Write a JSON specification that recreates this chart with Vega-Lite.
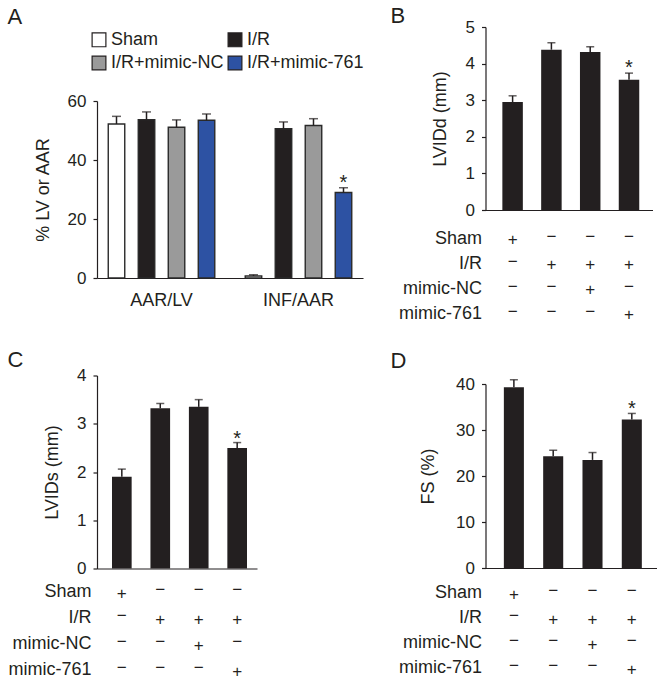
{
  "$schema": "https://vega.github.io/schema/vega-lite/v6.json",
  "background": "white",
  "padding": {"left": 7, "top": 5, "right": 0, "bottom": 0},
  "config": {
    "font": "Liberation Sans",
    "view": {"stroke": null},
    "axis": {
      "domainColor": "#231f20", "tickColor": "#231f20", "labelColor": "#231f20", "titleColor": "#231f20",
      "labelFont": "Liberation Sans", "titleFont": "Liberation Sans",
      "labelFontSize": 17, "titleFontSize": 18, "titleFontWeight": "normal",
      "grid": false, "domainWidth": 1.2, "tickWidth": 1.2, "tickSize": 4, "labelPadding": 7
    },
    "title": {"font": "Liberation Sans", "fontSize": 22, "fontWeight": "normal", "anchor": "start", "frame": "group", "color": "#231f20"},
    "text": {"font": "Liberation Sans", "color": "#231f20"}
  },
  "datasets": {
    "a": [
      {"measure": "AAR/LV", "group": "Sham", "value": 52.2, "upper": 54.8},
      {"measure": "AAR/LV", "group": "I/R", "value": 53.7, "upper": 56.3},
      {"measure": "AAR/LV", "group": "I/R+mimic-NC", "value": 51.1, "upper": 53.6},
      {"measure": "AAR/LV", "group": "I/R+mimic-761", "value": 53.5, "upper": 55.6},
      {"measure": "INF/AAR", "group": "Sham", "value": 0.7, "upper": 1.1},
      {"measure": "INF/AAR", "group": "I/R", "value": 50.6, "upper": 52.9},
      {"measure": "INF/AAR", "group": "I/R+mimic-NC", "value": 51.7, "upper": 54.0},
      {"measure": "INF/AAR", "group": "I/R+mimic-761", "value": 29.0, "upper": 30.6, "star": "*"}
    ],
    "b": [
      {"group": "Sham", "value": 2.95, "upper": 3.12},
      {"group": "I/R", "value": 4.38, "upper": 4.57},
      {"group": "I/R+mimic-NC", "value": 4.32, "upper": 4.46},
      {"group": "I/R+mimic-761", "value": 3.56, "upper": 3.74, "star": "*"}
    ],
    "c": [
      {"group": "Sham", "value": 1.90, "upper": 2.06},
      {"group": "I/R", "value": 3.32, "upper": 3.42},
      {"group": "I/R+mimic-NC", "value": 3.35, "upper": 3.50},
      {"group": "I/R+mimic-761", "value": 2.50, "upper": 2.61, "star": "*"}
    ],
    "d": [
      {"group": "Sham", "value": 39.3, "upper": 40.9},
      {"group": "I/R", "value": 24.3, "upper": 25.6},
      {"group": "I/R+mimic-NC", "value": 23.5, "upper": 25.1},
      {"group": "I/R+mimic-761", "value": 32.3, "upper": 33.6, "star": "*"}
    ],
    "table": [
      {"group": "Sham", "row": "Sham", "sign": "+"},
      {"group": "I/R", "row": "Sham", "sign": "−"},
      {"group": "I/R+mimic-NC", "row": "Sham", "sign": "−"},
      {"group": "I/R+mimic-761", "row": "Sham", "sign": "−"},
      {"group": "Sham", "row": "I/R", "sign": "−"},
      {"group": "I/R", "row": "I/R", "sign": "+"},
      {"group": "I/R+mimic-NC", "row": "I/R", "sign": "+"},
      {"group": "I/R+mimic-761", "row": "I/R", "sign": "+"},
      {"group": "Sham", "row": "mimic-NC", "sign": "−"},
      {"group": "I/R", "row": "mimic-NC", "sign": "−"},
      {"group": "I/R+mimic-NC", "row": "mimic-NC", "sign": "+"},
      {"group": "I/R+mimic-761", "row": "mimic-NC", "sign": "−"},
      {"group": "Sham", "row": "mimic-761", "sign": "−"},
      {"group": "I/R", "row": "mimic-761", "sign": "−"},
      {"group": "I/R+mimic-NC", "row": "mimic-761", "sign": "−"},
      {"group": "I/R+mimic-761", "row": "mimic-761", "sign": "+"}
    ]
  },
  "resolve": {"scale": {"color": "independent"}},
  "spacing": 26.5,
  "hconcat": [
    {
      "spacing": 2.5,
      "resolve": {"scale": {"color": "independent"}},
      "vconcat": [
        {
          "width": 266, "height": 251,
          "title": {"text": "A", "dx": -89.5, "offset": -1.5},
          "data": {"name": "a"},
          "encoding": {
            "x": {"field": "measure", "type": "nominal", "sort": ["AAR/LV", "INF/AAR"],
                  "scale": {"paddingInner": 0.058, "paddingOuter": 0},
                  "axis": {"labelAngle": 0, "ticks": false, "labelFontSize": 18, "labelPadding": 13, "title": " ", "titleFontSize": 18, "titlePadding": 18.5}},
            "xOffset": {"field": "group", "type": "nominal", "sort": ["Sham", "I/R", "I/R+mimic-NC", "I/R+mimic-761"],
                        "scale": {"paddingInner": 0.45, "paddingOuter": 0.375}}
          },
          "layer": [
            {
              "mark": {"type": "bar", "stroke": "#2a2a2a", "strokeWidth": 1.4},
              "encoding": {
                "y": {"field": "value", "type": "quantitative", "scale": {"domain": [0, 60], "range": [251, 74]},
                      "axis": {"values": [0, 20, 40, 60], "title": "% LV or AAR", "titlePadding": 15}},
                "color": {"field": "group", "type": "nominal", "sort": ["Sham", "I/R", "I/R+mimic-NC", "I/R+mimic-761"],
                          "scale": {"domain": ["Sham", "I/R", "I/R+mimic-NC", "I/R+mimic-761"], "range": ["#ffffff", "#231f20", "#9a9a9a", "#2d52a3"]},
                          "legend": {"orient": "none", "legendX": -7, "legendY": 3.5, "direction": "horizontal", "columns": 2, "title": null,
                                     "symbolType": "square", "symbolSize": 190, "symbolStrokeColor": "#231f20", "symbolStrokeWidth": 1.2,
                                     "labelFontSize": 18, "labelFont": "Liberation Sans", "labelColor": "#231f20", "labelOffset": 3,
                                     "rowPadding": 3.5, "columnPadding": 1, "padding": 0, "labelLimit": 300}}
              }
            },
            {
              "mark": {"type": "rule", "color": "#231f20", "strokeWidth": 1.5},
              "encoding": {"y": {"field": "value", "type": "quantitative", "scale": {"domain": [0, 60], "range": [251, 74]},
                                 "axis": {"values": [0, 20, 40, 60], "title": "% LV or AAR", "titlePadding": 15}}, "y2": {"field": "upper"}}
            },
            {
              "mark": {"type": "tick", "color": "#231f20", "size": 9, "thickness": 1.5},
              "encoding": {"y": {"field": "upper", "type": "quantitative", "scale": {"domain": [0, 60], "range": [251, 74]},
                                 "axis": {"values": [0, 20, 40, 60], "title": "% LV or AAR", "titlePadding": 15}}}
            },
            {
              "transform": [{"filter": "datum.star"}],
              "mark": {"type": "text", "fontSize": 20, "baseline": "alphabetic", "dy": 1},
              "encoding": {"y": {"field": "upper", "type": "quantitative", "scale": {"domain": [0, 60], "range": [251, 74]},
                                 "axis": {"values": [0, 20, 40, 60], "title": "% LV or AAR", "titlePadding": 15}}, "text": {"field": "star"}}
            }
          ]
        },
        {
          "width": 160, "height": 193,
          "title": {"text": "C", "dx": -89.5, "offset": -5},
          "data": {"name": "c"},
          "encoding": {
            "x": {"field": "group", "type": "nominal", "sort": ["Sham", "I/R", "I/R+mimic-NC", "I/R+mimic-761"],
                  "scale": {"type": "band", "paddingInner": 0.489, "paddingOuter": 0.325, "align": 0.6},
                  "axis": {"labels": false, "ticks": false, "labelPadding": 0, "title": null}}
          },
          "layer": [
            {"mark": {"type": "bar", "color": "#231f20"},
             "encoding": {"y": {"field": "value", "type": "quantitative", "scale": {"domain": [0, 4]},
                                "axis": {"values": [0, 1, 2, 3, 4], "title": "LVIDs (mm)", "titlePadding": 15}}}},
            {"mark": {"type": "rule", "color": "#231f20", "strokeWidth": 1.5},
             "encoding": {"y": {"field": "value", "type": "quantitative", "scale": {"domain": [0, 4]},
                                "axis": {"values": [0, 1, 2, 3, 4], "title": "LVIDs (mm)", "titlePadding": 15}}, "y2": {"field": "upper"}}},
            {"mark": {"type": "tick", "color": "#231f20", "size": 8, "thickness": 1.5},
             "encoding": {"y": {"field": "upper", "type": "quantitative", "scale": {"domain": [0, 4]},
                                "axis": {"values": [0, 1, 2, 3, 4], "title": "LVIDs (mm)", "titlePadding": 15}}}},
            {"transform": [{"filter": "datum.star"}],
             "mark": {"type": "text", "fontSize": 20, "baseline": "alphabetic", "dy": 2},
             "encoding": {"y": {"field": "upper", "type": "quantitative", "scale": {"domain": [0, 4]},
                                "axis": {"values": [0, 1, 2, 3, 4], "title": "LVIDs (mm)", "titlePadding": 15}}, "text": {"field": "star"}}}
          ]
        },
        {
          "width": 160, "height": 104,
          "data": {"name": "table"},
          "encoding": {
            "x": {"field": "group", "type": "nominal", "sort": ["Sham", "I/R", "I/R+mimic-NC", "I/R+mimic-761"],
                  "scale": {"type": "band", "paddingInner": 0.489, "paddingOuter": 0.325, "align": 0.6}, "axis": null},
            "y": {"field": "row", "type": "nominal", "sort": ["Sham", "I/R", "mimic-NC", "mimic-761"],
                  "scale": {"type": "band", "paddingInner": 0, "paddingOuter": 0},
                  "axis": {"domain": false, "ticks": false, "labelPadding": 6, "labelFontSize": 18, "title": null}}
          },
          "layer": [
            {"transform": [{"filter": "datum.sign === '+'"}], "mark": {"type": "text", "fontSize": 17, "dy": 1.5}, "encoding": {"text": {"field": "sign"}}},
            {"transform": [{"filter": "datum.sign !== '+'"}], "mark": {"type": "text", "fontSize": 17, "dy": -2}, "encoding": {"text": {"field": "sign"}}}
          ]
        }
      ]
    },
    {
      "spacing": 4.5,
      "resolve": {"scale": {"color": "independent"}},
      "vconcat": [
        {
          "width": 167, "height": 183,
          "title": {"text": "B", "dx": -95, "offset": -10},
          "data": {"name": "b"},
          "encoding": {
            "x": {"field": "group", "type": "nominal", "sort": ["Sham", "I/R", "I/R+mimic-NC", "I/R+mimic-761"],
                  "scale": {"type": "band", "paddingInner": 0.472, "paddingOuter": 0.388, "align": 0.56},
                  "axis": {"labels": false, "ticks": false, "labelPadding": 0, "title": null}}
          },
          "layer": [
            {"mark": {"type": "bar", "color": "#231f20"},
             "encoding": {"y": {"field": "value", "type": "quantitative", "scale": {"domain": [0, 5]},
                                "axis": {"values": [0, 1, 2, 3, 4, 5], "title": "LVIDd (mm)", "titlePadding": 16}}}},
            {"mark": {"type": "rule", "color": "#231f20", "strokeWidth": 1.5},
             "encoding": {"y": {"field": "value", "type": "quantitative", "scale": {"domain": [0, 5]},
                                "axis": {"values": [0, 1, 2, 3, 4, 5], "title": "LVIDd (mm)", "titlePadding": 16}}, "y2": {"field": "upper"}}},
            {"mark": {"type": "tick", "color": "#231f20", "size": 8, "thickness": 1.5},
             "encoding": {"y": {"field": "upper", "type": "quantitative", "scale": {"domain": [0, 5]},
                                "axis": {"values": [0, 1, 2, 3, 4, 5], "title": "LVIDd (mm)", "titlePadding": 16}}}},
            {"transform": [{"filter": "datum.star"}],
             "mark": {"type": "text", "fontSize": 20, "baseline": "alphabetic", "dy": 1},
             "encoding": {"y": {"field": "upper", "type": "quantitative", "scale": {"domain": [0, 5]},
                                "axis": {"values": [0, 1, 2, 3, 4, 5], "title": "LVIDd (mm)", "titlePadding": 16}}, "text": {"field": "star"}}}
          ]
        },
        {
          "width": 167, "height": 121.5,
          "data": {"name": "table"},
          "encoding": {
            "x": {"field": "group", "type": "nominal", "sort": ["Sham", "I/R", "I/R+mimic-NC", "I/R+mimic-761"],
                  "scale": {"type": "band", "paddingInner": 0.472, "paddingOuter": 0.388, "align": 0.56}, "axis": null},
            "y": {"field": "row", "type": "nominal", "sort": ["Sham", "I/R", "mimic-NC", "mimic-761"],
                  "scale": {"type": "band", "paddingInner": 0, "paddingOuter": 0.44, "align": 0.183},
                  "axis": {"domain": false, "ticks": false, "labelPadding": 4, "labelFontSize": 18, "title": null}}
          },
          "layer": [
            {"transform": [{"filter": "datum.sign === '+'"}], "mark": {"type": "text", "fontSize": 17, "dy": 1.5}, "encoding": {"text": {"field": "sign"}}},
            {"transform": [{"filter": "datum.sign !== '+'"}], "mark": {"type": "text", "fontSize": 17, "dy": -2}, "encoding": {"text": {"field": "sign"}}}
          ]
        },
        {
          "width": 171, "height": 184,
          "title": {"text": "D", "dx": -95, "offset": 2.5},
          "data": {"name": "d"},
          "encoding": {
            "x": {"field": "group", "type": "nominal", "sort": ["Sham", "I/R", "I/R+mimic-NC", "I/R+mimic-761"],
                  "scale": {"type": "band", "paddingInner": 0.49, "paddingOuter": 0.42, "align": 0.556},
                  "axis": {"labels": false, "ticks": false, "labelPadding": 0, "title": null}}
          },
          "layer": [
            {"mark": {"type": "bar", "color": "#231f20"},
             "encoding": {"y": {"field": "value", "type": "quantitative", "scale": {"domain": [0, 40]},
                                "axis": {"values": [0, 10, 20, 30, 40], "title": "FS (%)", "titlePadding": 18}}}},
            {"mark": {"type": "rule", "color": "#231f20", "strokeWidth": 1.5},
             "encoding": {"y": {"field": "value", "type": "quantitative", "scale": {"domain": [0, 40]},
                                "axis": {"values": [0, 10, 20, 30, 40], "title": "FS (%)", "titlePadding": 18}}, "y2": {"field": "upper"}}},
            {"mark": {"type": "tick", "color": "#231f20", "size": 8, "thickness": 1.5},
             "encoding": {"y": {"field": "upper", "type": "quantitative", "scale": {"domain": [0, 40]},
                                "axis": {"values": [0, 10, 20, 30, 40], "title": "FS (%)", "titlePadding": 18}}}},
            {"transform": [{"filter": "datum.star"}],
             "mark": {"type": "text", "fontSize": 20, "baseline": "alphabetic", "dy": 2},
             "encoding": {"y": {"field": "upper", "type": "quantitative", "scale": {"domain": [0, 40]},
                                "axis": {"values": [0, 10, 20, 30, 40], "title": "FS (%)", "titlePadding": 18}}, "text": {"field": "star"}}}
          ]
        },
        {
          "width": 171, "height": 100,
          "data": {"name": "table"},
          "encoding": {
            "x": {"field": "group", "type": "nominal", "sort": ["Sham", "I/R", "I/R+mimic-NC", "I/R+mimic-761"],
                  "scale": {"type": "band", "paddingInner": 0.49, "paddingOuter": 0.42, "align": 0.556}, "axis": null},
            "y": {"field": "row", "type": "nominal", "sort": ["Sham", "I/R", "mimic-NC", "mimic-761"],
                  "scale": {"type": "band", "paddingInner": 0, "paddingOuter": 0},
                  "axis": {"domain": false, "ticks": false, "labelPadding": 4, "labelFontSize": 18, "title": null}}
          },
          "layer": [
            {"transform": [{"filter": "datum.sign === '+'"}], "mark": {"type": "text", "fontSize": 17, "dy": 1.5}, "encoding": {"text": {"field": "sign"}}},
            {"transform": [{"filter": "datum.sign !== '+'"}], "mark": {"type": "text", "fontSize": 17, "dy": -2}, "encoding": {"text": {"field": "sign"}}}
          ]
        }
      ]
    }
  ]
}
